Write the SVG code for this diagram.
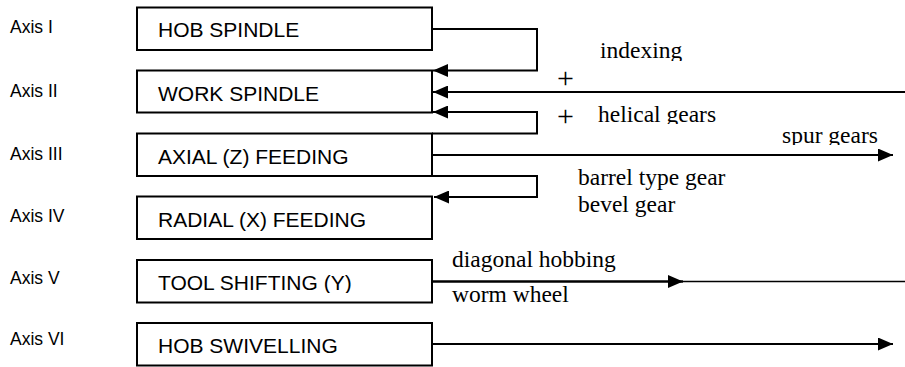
<svg xmlns="http://www.w3.org/2000/svg" width="905" height="367" viewBox="0 0 905 367">
<style>
.box{fill:#fff;stroke:#000;stroke-width:2}
.bt{font-family:"Liberation Sans",Arial,sans-serif;font-size:21px;fill:#000}
.ax{font-family:"Liberation Sans",Arial,sans-serif;font-size:17.5px;fill:#000}
.tm{font-family:"Liberation Serif","Times New Roman",serif;font-size:23.5px;fill:#000}
.pl{font-family:"Liberation Serif","Times New Roman",serif;font-size:30px;fill:#000}
.ln{fill:none;stroke:#000;stroke-width:2}
</style>
<defs>
<marker id="arr" markerUnits="userSpaceOnUse" markerWidth="15" markerHeight="13" refX="15" refY="6.5" orient="auto">
<path d="M0,0 L15,6.5 L0,13 Z" fill="#000"/>
</marker>
<clipPath id="cIdx"><rect x="590" y="30" width="120" height="31"/></clipPath>
<clipPath id="cHel"><rect x="590" y="95" width="150" height="29"/></clipPath>
<clipPath id="cSpur"><rect x="775" y="115" width="120" height="30"/></clipPath>
<clipPath id="cTool"><rect x="137" y="260" width="295" height="33"/></clipPath>
</defs>

<g id="axis-labels">
<text class="ax" x="10" y="33">Axis I</text>
<text class="ax" x="10" y="97">Axis II</text>
<text class="ax" x="10" y="160">Axis III</text>
<text class="ax" x="10" y="222">Axis IV</text>
<text class="ax" x="10" y="284">Axis V</text>
<text class="ax" x="10" y="345">Axis VI</text>
</g>

<g id="hob-spindle">
<rect class="box" x="137" y="7.5" width="295" height="42.5"/>
<text class="bt" x="158" y="37">HOB SPINDLE</text>
</g>
<g id="work-spindle">
<rect class="box" x="137" y="70.5" width="295" height="42"/>
<text class="bt" x="158" y="100.5">WORK SPINDLE</text>
</g>
<g id="axial-feeding">
<rect class="box" x="137" y="133.5" width="295" height="42.5"/>
<text class="bt" x="158" y="163.5">AXIAL (Z) FEEDING</text>
</g>
<g id="radial-feeding">
<rect class="box" x="137" y="196.5" width="295" height="42.5"/>
<text class="bt" x="158" y="226.5">RADIAL (X) FEEDING</text>
</g>
<g id="tool-shifting">
<rect class="box" x="137" y="260" width="295" height="42.5"/>
<text class="bt" x="158" y="290" clip-path="url(#cTool)">TOOL SHIFTING (Y)</text>
</g>
<g id="hob-swivelling">
<rect class="box" x="137" y="323" width="295" height="42.5"/>
<text class="bt" x="158" y="353">HOB SWIVELLING</text>
</g>

<g id="connectors">
<path class="ln" d="M432,29 H537 V70.5 H433" marker-end="url(#arr)"/>
<path class="ln" d="M905,92 H433" marker-end="url(#arr)"/>
<path class="ln" d="M432,133.5 H537 V112 H433" marker-end="url(#arr)"/>
<path class="ln" d="M432,155 H893" marker-end="url(#arr)"/>
<path class="ln" d="M432,176 H537 V197 H434" marker-end="url(#arr)"/>
<path class="ln" d="M432,281.5 H683" marker-end="url(#arr)" style="stroke-width:2.5"/>
<path class="ln" d="M683,281.5 H905" style="stroke-width:1.6"/>
<path class="ln" d="M432,344 H893" marker-end="url(#arr)"/>
</g>

<g id="labels">
<text class="tm" x="600" y="58" clip-path="url(#cIdx)">indexing</text>
<text class="pl" x="557" y="88">+</text>
<text class="pl" x="557" y="126">+</text>
<text class="tm" x="598" y="122" clip-path="url(#cHel)">helical gears</text>
<text class="tm" x="782" y="143" clip-path="url(#cSpur)">spur gears</text>
<text class="tm" x="578" y="185">barrel type gear</text>
<text class="tm" x="578" y="212">bevel gear</text>
<text class="tm" x="452" y="267">diagonal hobbing</text>
<text class="tm" x="452" y="302">worm wheel</text>
</g>
</svg>
